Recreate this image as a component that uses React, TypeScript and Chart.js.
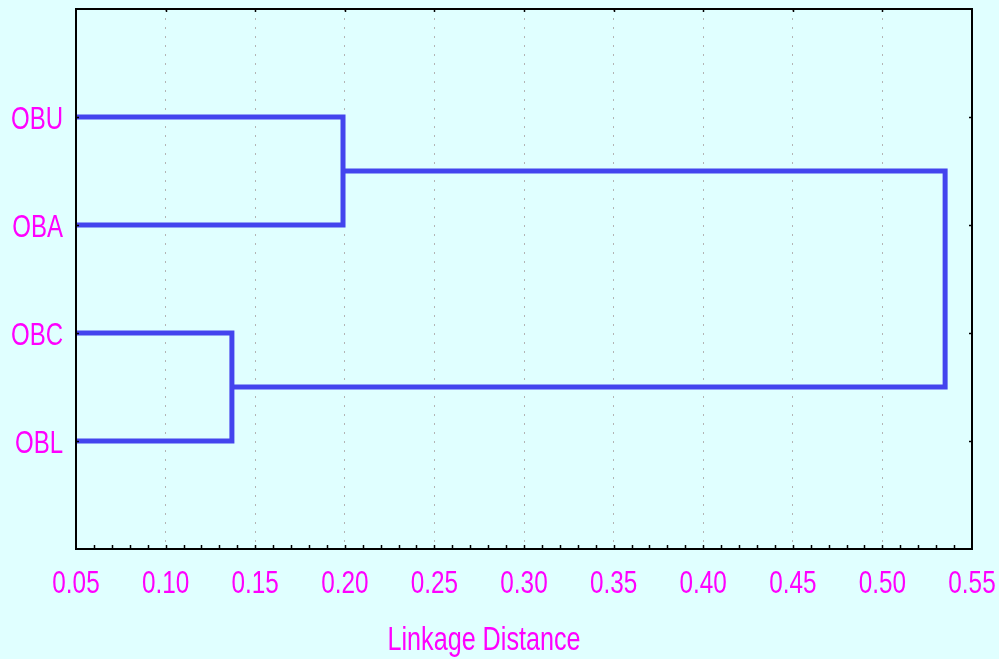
import React, { useEffect, useRef } from 'react';
import { Chart, registerables } from 'chart.js';
Chart.register(...registerables);

// Leaves (top to bottom) and their positions on the category axis
const leaves = ['OBU', 'OBA', 'OBC', 'OBL'];
const leafPositions = [1, 2, 3, 4];
// Merge steps: node ids 0..3 are leaves, 4.. are merged clusters
const mergeLeft = [0, 2, 4];
const mergeRight = [1, 3, 5];
const mergeDistance = [0.199, 0.137, 0.535];
// Axis
const xTicks = [0.05, 0.1, 0.15, 0.2, 0.25, 0.3, 0.35, 0.4, 0.45, 0.5, 0.55];
const xMin = 0.05;
const xMax = 0.55;
const axisTitle = 'Linkage Distance';

const FONT = "'Liberation Sans', Arial, sans-serif";
const BG = '#E0FFFF';
const MAGENTA = '#FF00FF';
const LINE = '#4444EE';

function condensedText(c: any, text: string, x: number, y: number, size: number, sx: number, align: string) {
  c.save();
  c.font = `${size}px ${FONT}`;
  c.fillStyle = MAGENTA;
  c.textBaseline = 'alphabetic';
  c.textAlign = 'left';
  const w = c.measureText(text).width * sx;
  let x0 = x;
  if (align === 'center') x0 = x - w / 2;
  else if (align === 'right') x0 = x - w;
  c.translate(x0, y);
  c.scale(sx, 1);
  c.fillText(text, 0, 0);
  c.restore();
}

export default function App() {
  const ref = useRef<HTMLCanvasElement | null>(null);
  useEffect(() => {
    const heights: number[] = leaves.map(() => 0);
    const pos: number[] = [...leafPositions];
    const datasets: any[] = [];
    mergeDistance.forEach((d, k) => {
      const l = mergeLeft[k];
      const r = mergeRight[k];
      datasets.push({
        data: [
          { x: heights[l], y: pos[l] },
          { x: d, y: pos[l] },
          { x: d, y: pos[r] },
          { x: heights[r], y: pos[r] },
        ],
        showLine: true,
        borderColor: LINE,
        borderWidth: 5,
        pointRadius: 0,
        fill: false,
        clip: 0,
        borderJoinStyle: 'miter',
      });
      heights.push(d);
      pos.push((pos[l] + pos[r]) / 2);
    });

    const framePlugin = {
      id: 'frame',
      beforeDraw(chart: any) {
        const c = chart.ctx;
        c.save();
        c.fillStyle = BG;
        c.fillRect(0, 0, chart.width, chart.height);
        c.restore();
      },
      afterDraw(chart: any) {
        const c = chart.ctx;
        const { left, right, top, bottom } = chart.chartArea;
        const xs = chart.scales.x;
        const ys = chart.scales.y;
        c.save();
        c.strokeStyle = '#000';
        c.lineWidth = 2;
        c.strokeRect(left, top, right - left, bottom - top);
        c.lineWidth = 1.5;
        c.beginPath();
        for (let i = 1; i < 50; i++) {
          const v = xMin + i * 0.01;
          const px = Math.round(xs.getPixelForValue(v)) + 0.5;
          c.moveTo(px, bottom);
          c.lineTo(px, bottom - 4);
        }
        xTicks.slice(1, -1).forEach((v) => {
          const px = Math.round(xs.getPixelForValue(v)) + 0.5;
          c.moveTo(px, top);
          c.lineTo(px, top + 3);
        });
        leafPositions.forEach((v) => {
          const py = Math.round(ys.getPixelForValue(v)) + 0.5;
          c.moveTo(left, py);
          c.lineTo(left + 3, py);
          c.moveTo(right, py);
          c.lineTo(right - 3, py);
        });
        c.stroke();
        c.restore();
        // tick labels from the scales' ticks
        xs.ticks.forEach((t: any) => {
          const px = xs.getPixelForValue(t.value);
          condensedText(c, Number(t.value).toFixed(2), px, bottom + 44, 32, 0.76, 'center');
        });
        ys.ticks.forEach((t: any) => {
          const py = ys.getPixelForValue(t.value);
          const label = leaves[leafPositions.indexOf(Number(t.value))] ?? '';
          condensedText(c, label, left - 13, py + 11.5, 32, 0.75, 'right');
        });
        condensedText(c, axisTitle, (left + right) / 2 - 40, bottom + 101, 34, 0.74, 'center');
      },
    };

    const chart = new Chart(ref.current as HTMLCanvasElement, {
      type: 'scatter',
      data: { datasets },
      plugins: [framePlugin],
      options: {
        animation: false,
        responsive: true,
        maintainAspectRatio: false,
        layout: { padding: { top: 9, right: 27, left: 0, bottom: 0 } },
        plugins: { legend: { display: false }, tooltip: { enabled: false } },
        scales: {
          x: {
            type: 'linear',
            min: xMin,
            max: xMax,
            afterBuildTicks: (s: any) => {
              s.ticks = xTicks.map((v) => ({ value: v }));
            },
            afterFit: (s: any) => {
              s.height = 110;
              s.paddingLeft = 0;
              s.paddingRight = 0;
            },
            ticks: { display: false },
            grid: {
              drawTicks: false,
              lineWidth: 1,
              color: (ctx: any) => {
                const v = ctx.tick ? ctx.tick.value : 0;
                return v > xMin + 1e-6 && v < xMax - 1e-6 ? '#B4B4B4' : 'rgba(0,0,0,0)';
              },
            },
            border: { display: false, dash: [2, 7] },
          },
          y: {
            type: 'linear',
            min: 0,
            max: 5,
            reverse: true,
            afterBuildTicks: (s: any) => {
              s.ticks = leafPositions.map((v) => ({ value: v }));
            },
            afterFit: (s: any) => {
              s.width = 76;
              s.paddingTop = 0;
              s.paddingBottom = 0;
            },
            ticks: { display: false },
            grid: { display: false, drawTicks: false },
            border: { display: false },
          },
        },
      } as any,
    });
    return () => chart.destroy();
  }, []);

  return (
    <div style={{ position: 'fixed', left: 0, top: 0, width: 999, height: 659, background: BG }}>
      <canvas ref={ref} />
    </div>
  );
}
